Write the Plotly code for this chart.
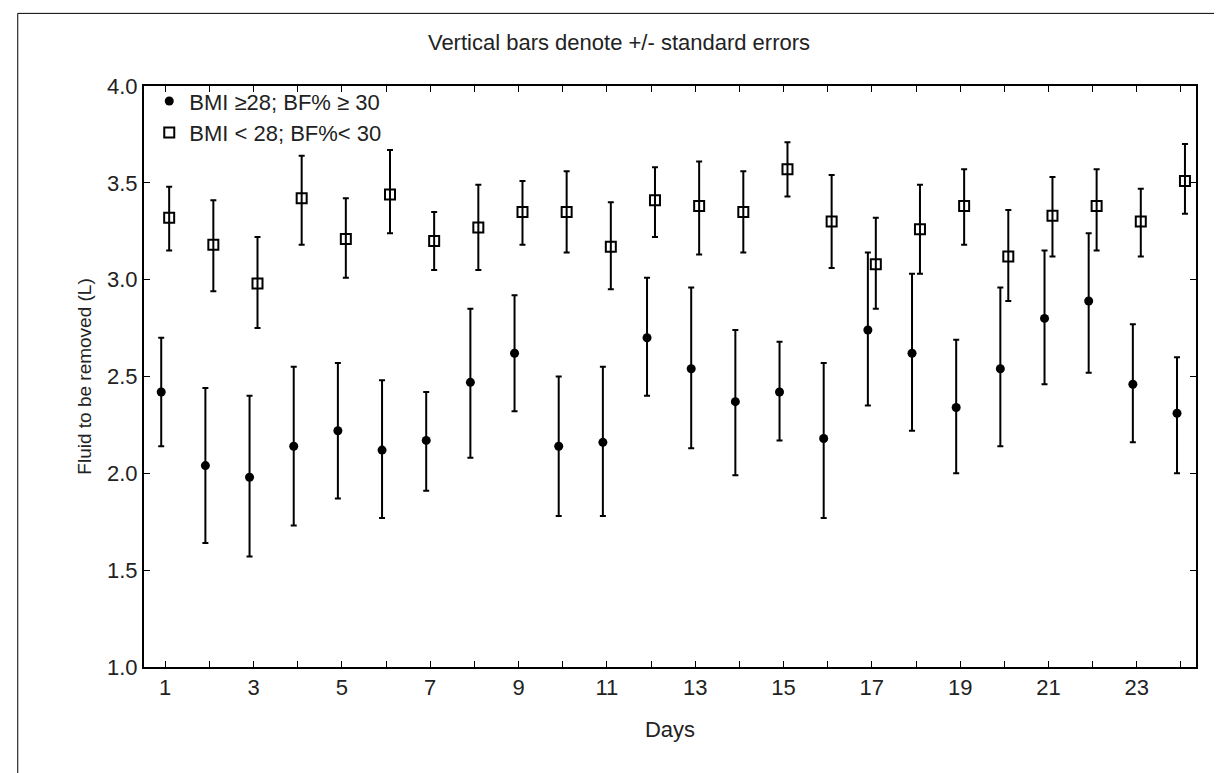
import plotly.graph_objects as go

days = list(range(1, 25))
hi_mean = [2.42,2.04,1.98,2.14,2.22,2.12,2.17,2.47,2.62,2.14,2.16,2.70,2.54,2.37,2.42,2.18,2.74,2.62,2.34,2.54,2.80,2.89,2.46,2.31]
hi_up   = [2.70,2.44,2.40,2.55,2.57,2.48,2.42,2.85,2.92,2.50,2.55,3.01,2.96,2.74,2.68,2.57,3.14,3.03,2.69,2.96,3.15,3.24,2.77,2.60]
hi_lo   = [2.14,1.64,1.57,1.73,1.87,1.77,1.91,2.08,2.32,1.78,1.78,2.40,2.13,1.99,2.17,1.77,2.35,2.22,2.00,2.14,2.46,2.52,2.16,2.00]
lo_mean = [3.32,3.18,2.98,3.42,3.21,3.44,3.20,3.27,3.35,3.35,3.17,3.41,3.38,3.35,3.57,3.30,3.08,3.26,3.38,3.12,3.33,3.38,3.30,3.51]
lo_up   = [3.48,3.41,3.22,3.64,3.42,3.67,3.35,3.49,3.51,3.56,3.40,3.58,3.61,3.56,3.71,3.54,3.32,3.49,3.57,3.36,3.53,3.57,3.47,3.70]
lo_lo   = [3.15,2.94,2.75,3.18,3.01,3.24,3.05,3.05,3.18,3.14,2.95,3.22,3.13,3.14,3.43,3.06,2.85,3.03,3.18,2.89,3.12,3.15,3.12,3.34]
labels = ["BMI \u226528; BF% \u2265 30", "BMI < 28; BF%< 30"]
xticks = [1,3,5,7,9,11,13,15,17,19,21,23]
yticks = [1.0,1.5,2.0,2.5,3.0,3.5,4.0]

fig = go.Figure()
fig.add_trace(go.Scatter(
    x=[d - 0.09 for d in days], y=hi_mean, mode="markers", name=labels[0],
    marker=dict(symbol="circle", size=9, color="black"),
    error_y=dict(type="data", symmetric=False,
                 array=[u - m for u, m in zip(hi_up, hi_mean)],
                 arrayminus=[m - l for m, l in zip(hi_mean, hi_lo)],
                 color="black", thickness=2, width=3)))
fig.add_trace(go.Scatter(
    x=[d + 0.09 for d in days], y=lo_mean, mode="markers", name=labels[1],
    marker=dict(symbol="square-open", size=10, color="black", line=dict(width=2)),
    error_y=dict(type="data", symmetric=False,
                 array=[u - m for u, m in zip(lo_up, lo_mean)],
                 arrayminus=[m - l for m, l in zip(lo_mean, lo_lo)],
                 color="black", thickness=2, width=3)))

font = dict(family="Liberation Sans, Arial, sans-serif", color="#222")
fig.update_layout(
    width=1222, height=773, paper_bgcolor="white", plot_bgcolor="white",
    margin=dict(l=136, r=34, t=78, b=114),
    font=dict(size=22, **font),
    title=dict(text="Vertical bars denote +/- standard errors", x=0.5, xanchor="center",
               y=0.955, yanchor="middle", font=dict(size=22, **font)),
    legend=dict(x=0.005, y=1.01, xanchor="left", yanchor="top", bgcolor="rgba(0,0,0,0)",
                font=dict(size=22, **font), tracegroupgap=0),
    showlegend=True,
    shapes=[dict(type="rect", xref="paper", yref="paper", x0=-0.12, x1=1.027, y0=-0.2, y1=1.125,
                 line=dict(color="black", width=1))],
)
fig.update_xaxes(range=[0.52, 24.34], tickmode="array", tickvals=xticks, ticks="inside", ticklen=6,
                 tickcolor="black", showline=True, linecolor="black", linewidth=2, mirror="ticks",
                 showgrid=False, zeroline=False, title=dict(text="Days", font=dict(size=22, **font), standoff=22),
                 minor=dict(tickvals=days, ticks="inside", ticklen=6, tickcolor="black"))
fig.update_yaxes(range=[1.0, 4.0], tickmode="array", tickvals=yticks, tickformat=".1f", ticks="inside",
                 ticklen=6, tickcolor="black", showline=True, linecolor="black", linewidth=2, mirror="ticks",
                 showgrid=False, zeroline=False,
                 title=dict(text="Fluid to be removed (L)", font=dict(size=19, **font), standoff=10))
fig.write_html("out.html")
